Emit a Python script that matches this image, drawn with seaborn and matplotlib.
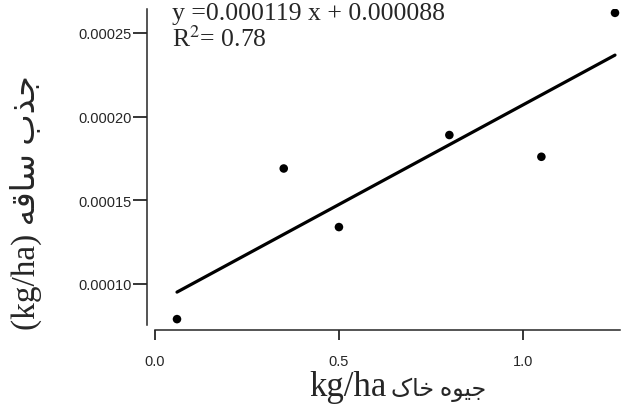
import numpy as np
import pandas as pd
import matplotlib
matplotlib.use("Agg")
import matplotlib.pyplot as plt
import seaborn as sns

# ---- data ----
soil_hg = [0.06, 0.35, 0.50, 0.80, 1.05, 1.25]
stem_uptake = [0.000079, 0.000169, 0.000134, 0.000189, 0.000176, 0.000262]
slope = 0.000119
intercept = 0.000088
r2 = 0.78
x_ticks = [0.0, 0.5, 1.0]
x_tick_labels = ["0.0", "0.5", "1.0"]
y_ticks = [0.00010, 0.00015, 0.00020, 0.00025]
y_tick_labels = ["0.00010", "0.00015", "0.00020", "0.00025"]
y_label_fa = "جذب ساقه"
x_label_fa = "جیوه خاک"
unit = "kg/ha"

# ---- minimal Persian shaping (matplotlib has no complex text layout) ----
FORMS = {  # isolated, final, initial, medial
    'ا': ('\uFE8D', '\uFE8E', None, None),
    'ب': ('\uFE8F', '\uFE90', '\uFE91', '\uFE92'),
    'ج': ('\uFE9D', '\uFE9E', '\uFE9F', '\uFEA0'),
    'خ': ('\uFEA5', '\uFEA6', '\uFEA7', '\uFEA8'),
    'ذ': ('\uFEAB', '\uFEAC', None, None),
    'س': ('\uFEB1', '\uFEB2', '\uFEB3', '\uFEB4'),
    'ق': ('\uFED5', '\uFED6', '\uFED7', '\uFED8'),
    'ه': ('\uFEE9', '\uFEEA', '\uFEEB', '\uFEEC'),
    'و': ('\uFEED', '\uFEEE', None, None),
    'ی': ('\uFBFC', '\uFBFD', '\uFBFE', '\uFBFF'),
    'ک': ('\uFB8E', '\uFB8F', '\uFB90', '\uFB91'),
}


def shape_rtl(text):
    out = []
    for i, c in enumerate(text):
        if c not in FORMS:
            out.append(c)
            continue
        prev = text[i - 1] if i > 0 else ''
        nxt = text[i + 1] if i + 1 < len(text) else ''
        joins_prev = prev in FORMS and FORMS[prev][2] is not None
        joins_next = FORMS[c][2] is not None and nxt in FORMS
        f = FORMS[c]
        if joins_prev and joins_next:
            g = f[3]
        elif joins_prev:
            g = f[1]
        elif joins_next:
            g = f[2]
        else:
            g = f[0]
        out.append(g)
    return ''.join(reversed(out))


df = pd.DataFrame({"x": soil_hg, "y": stem_uptake})
line_x = [min(soil_hg), max(soil_hg)]
line_df = pd.DataFrame({"x": line_x, "y": [slope * v + intercept for v in line_x]})

sns.set_style("ticks")
plt.rcParams['font.family'] = ['Liberation Sans', 'DejaVu Sans']
plt.rcParams['mathtext.fontset'] = 'stix'

W, H = 621, 410
fig = plt.figure(figsize=(W / 100, H / 100), dpi=100)
ax = fig.add_axes([147 / W, 1 - 331 / H, (620 - 147) / W, (331 - 10) / H])

sns.lineplot(data=line_df, x="x", y="y", ax=ax, color="black", linewidth=2.3)
sns.scatterplot(data=df, x="x", y="y", ax=ax, color="black", s=38,
                edgecolor="none", zorder=3)

ax.set_xlim(-0.0215, 1.2636)
ax.set_ylim(0.0000725, 0.0002643)
ax.set_xticks(x_ticks)
ax.set_xticklabels(x_tick_labels)
ax.set_yticks(y_ticks)
ax.set_yticklabels(y_tick_labels)
ax.tick_params(axis='y', length=10, width=1.1, pad=1, labelsize=10.5, color='black')
ax.tick_params(axis='x', length=7, width=1.1, pad=10, labelsize=10.5, color='black')

for s in ['top', 'right']:
    ax.spines[s].set_visible(False)
ax.spines['left'].set_linewidth(1.1)
ax.spines['bottom'].set_linewidth(1.1)
ax.spines['left'].set_bounds(0.0000756, 0.0002643)
ax.spines['bottom'].set_bounds(0.0, 1.2636)
ax.set_xlabel("")
ax.set_ylabel("")

serif = ['Liberation Serif', 'DejaVu Sans']
fig.text(26 / W, 1 - 203 / H, "(" + unit + ") " + shape_rtl(y_label_fa),
         rotation=90, ha='center', va='center', fontsize=24, family=serif)
fig.text(387 / W, 1 - 396 / H, unit,
         ha='right', va='baseline', fontsize=25, family=serif)
fig.text(391 / W, 1 - 396 / H, shape_rtl(x_label_fa),
         ha='left', va='baseline', fontsize=17, family=serif)

fig.text(172 / W, 1 - 20 / H, "y =0.000119 x + 0.000088",
         ha='left', va='baseline', fontsize=18.5, family=serif)
fig.text(172 / W, 1 - 47 / H, "R$^2$= 0.78",
         ha='left', va='baseline', fontsize=18.5, family=serif)

fig.savefig("out.png", dpi=100)
